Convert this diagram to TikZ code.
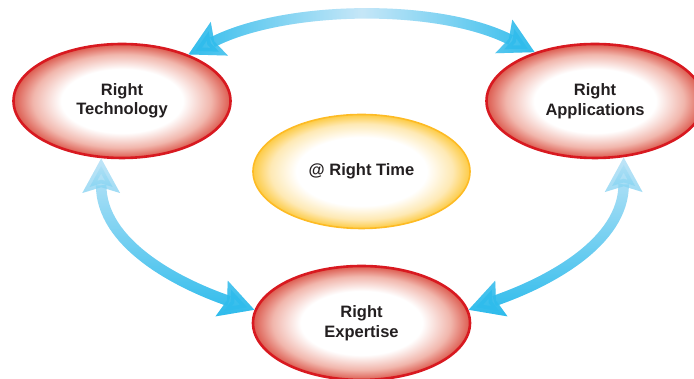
\documentclass[tikz,border=0pt]{standalone}
\usepackage{fontspec}
\setmainfont{Liberation Sans}
\usetikzlibrary{arrows.meta,shapes.geometric,fadings}
\definecolor{Ink}{HTML}{231F20}
\definecolor{Ring}{HTML}{D81920}
\definecolor{RingSoft}{HTML}{DC5A4E}
\definecolor{RingMid}{HTML}{F1B6AC}
\definecolor{Sun}{HTML}{FDBB24}
\definecolor{SunSoft}{HTML}{FDCB45}
\definecolor{SunMid}{HTML}{FEE9B4}
\definecolor{Sky}{HTML}{2FBCEC}
\definecolor{SkySoft}{HTML}{C6E7F8}
\pgfdeclareradialshading{redglow}{\pgfpoint{0bp}{0bp}}{color(0bp)=(white); color(14bp)=(white); color(20.5bp)=(RingMid); color(25bp)=(RingSoft); color(50bp)=(RingSoft)}
\pgfdeclareradialshading{sunglow}{\pgfpoint{0bp}{0bp}}{color(0bp)=(white); color(15bp)=(white); color(21bp)=(SunMid); color(25bp)=(SunSoft); color(50bp)=(SunSoft)}
\tikzfading[name=fadeup, top color=transparent!100, bottom color=transparent!0]
\tikzfading[name=fademid, left color=transparent!0, right color=transparent!0, middle color=transparent!100]
\tikzset{
  oval/.style={ellipse,minimum width=217pt,minimum height=114pt,align=center,text=Ink,font=\fontsize{16.5}{19.5}\selectfont\bfseries},
  redoval/.style={oval,draw=Ring,line width=2.6pt,shade,shading=redglow},
  sunoval/.style={oval,draw=Sun,line width=1.6pt,shade,shading=sunglow},
  link/.style={line width=10.5pt,draw=SkySoft,{Stealth[length=34pt,width=36pt,inset=5pt]}-{Stealth[length=34pt,width=36pt,inset=5pt]}}
}
\begin{document}
\begin{tikzpicture}[x=1pt,y=1pt]
  \useasboundingbox (0,0) rectangle (694,379);
  \node[redoval] (tech) at (122,278) {Right\\Technology};
  \node[redoval] (apps) at (595,278) {Right\\Applications};
  \node[sunoval] (time) at (361.5,207.5) {@ Right Time};
  \node[redoval] (expert) at (361.5,56) {Right\\Expertise};
  % two-way links, light stroke under a faded dark one
  \foreach \a/\b/\o/\i/\l/\f in {tech.35/apps.141/27/153/0.8/fademid,
      tech.250/expert.173/-90/161/1/fadeup,
      apps.297/expert.7/-90/19/1/fadeup}{
    \draw[link] (\a) to[out=\o,in=\i,looseness=\l] (\b);
    \draw[link,draw=Sky,path fading=\f] (\a) to[out=\o,in=\i,looseness=\l] (\b);
  }
\end{tikzpicture}
\end{document}
